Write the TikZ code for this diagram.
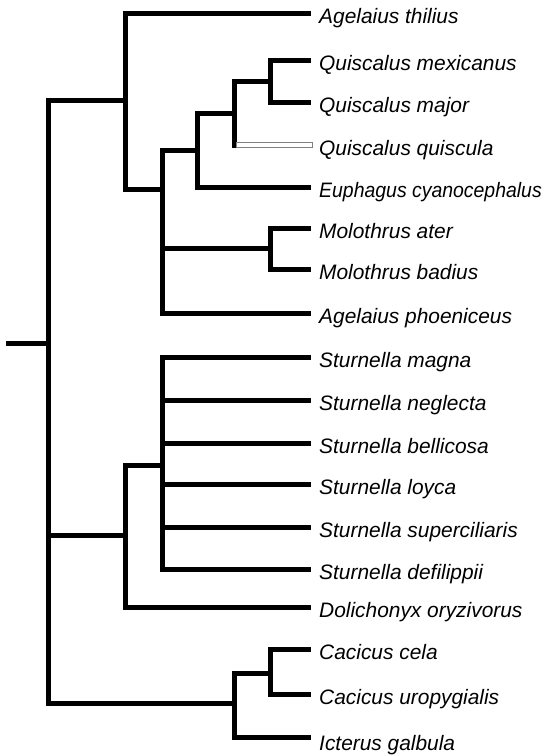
\documentclass[tikz,border=0pt]{standalone}
\usepackage{fontspec}
\usepackage{graphicx}
\setmainfont{Liberation Sans}
\usetikzlibrary{calc}
\begin{document}
\begin{tikzpicture}[x=1pt,y=-1pt,
  branch/.style={line width=5pt, line cap=rect, line join=miter, black},
  openbar/.style={draw=gray, line width=0.7pt, fill=white},
  lab/.style={anchor=base west, inner sep=0pt, xshift=11pt, yshift=-10pt,
    font=\fontsize{20.9}{24}\selectfont\itshape}]
\useasboundingbox (0,0) rectangle (551,756);
% internal nodes
\coordinate (stub) at (8,343);
\coordinate (r) at (48,343);
\coordinate (A) at (125,100);
\coordinate (B) at (162,189);
\coordinate (C) at (197,150);
\coordinate (D) at (234,113);
\coordinate (E) at (270,81);
\coordinate (F) at (270,248);
\coordinate (G) at (125,535);
\coordinate (H) at (162,465);
\coordinate (I) at (234,703);
\coordinate (J) at (270,673);
% leaves
\coordinate (l1) at (308,13);
\coordinate (l2) at (308,60);
\coordinate (l3) at (308,102);
\coordinate (l4) at (308,145);
\coordinate (l5) at (308,187);
\coordinate (l6) at (308,228);
\coordinate (l7) at (308,269);
\coordinate (l8) at (308,313);
\coordinate (l9) at (308,357);
\coordinate (l10) at (308,400);
\coordinate (l11) at (308,443);
\coordinate (l12) at (308,484);
\coordinate (l13) at (308,527);
\coordinate (l14) at (308,569);
\coordinate (l15) at (308,607);
\coordinate (l16) at (308,649);
\coordinate (l17) at (308,694);
\coordinate (l18) at (308,737);
\coordinate (qbar) at (236.5,145);
% branches
\draw[branch] (stub) -- (r);
\draw[branch] (r) |- (A);
\draw[branch] (r) |- (G);
\draw[branch] (r) |- (I);
\draw[branch] (A) |- (l1);
\draw[branch] (A) |- (B);
\draw[branch] (B) |- (C);
\draw[branch] (B) |- (F);
\draw[branch] (B) |- (l8);
\draw[branch] (C) |- (D);
\draw[branch] (C) |- (l5);
\draw[branch] (D) |- (E);
\draw[branch] (D) -- (D |- l4);
\draw[branch] (E) |- (l2);
\draw[branch] (E) |- (l3);
\draw[branch] (F) |- (l6);
\draw[branch] (F) |- (l7);
\draw[branch] (G) |- (H);
\draw[branch] (G) |- (l15);
\draw[branch] (H) |- (l9);
\draw[branch] (H) |- (l10);
\draw[branch] (H) |- (l11);
\draw[branch] (H) |- (l12);
\draw[branch] (H) |- (l13);
\draw[branch] (H) |- (l14);
\draw[branch] (I) |- (J);
\draw[branch] (I) |- (l18);
\draw[branch] (J) |- (l16);
\draw[branch] (J) |- (l17);
\filldraw[openbar] ($(qbar)+(0,-2.3)$) rectangle ($(l4)+(4.5,2.3)$);
% labels
\node[lab] (t1) at (l1) {Agelaius thilius};
\node[lab] (t2) at (l2) {Quiscalus mexicanus};
\node[lab] (t3) at (l3) {Quiscalus major};
\node[lab] (t4) at (l4) {Quiscalus quiscula};
\node[lab] (t5) at (l5) {\scalebox{0.93}[1]{Euphagus cyanocephalus}};
\node[lab] (t6) at (l6) {Molothrus ater};
\node[lab] (t7) at (l7) {Molothrus badius};
\node[lab] (t8) at (l8) {Agelaius phoeniceus};
\node[lab] (t9) at (l9) {Sturnella magna};
\node[lab] (t10) at (l10) {Sturnella neglecta};
\node[lab] (t11) at (l11) {Sturnella bellicosa};
\node[lab] (t12) at (l12) {Sturnella loyca};
\node[lab] (t13) at (l13) {Sturnella superciliaris};
\node[lab] (t14) at (l14) {Sturnella defilippii};
\node[lab] (t15) at (l15) {Dolichonyx oryzivorus};
\node[lab] (t16) at (l16) {Cacicus cela};
\node[lab] (t17) at (l17) {Cacicus uropygialis};
\node[lab, yshift=-3pt] (t18) at (l18) {Icterus galbula};
\end{tikzpicture}
\end{document}
